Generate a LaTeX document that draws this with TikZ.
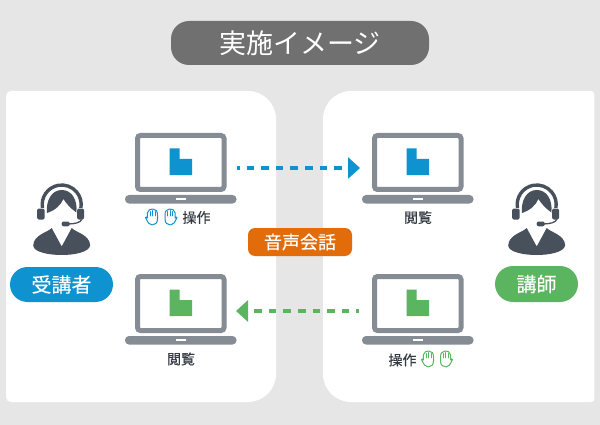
\documentclass[tikz,border=0pt]{standalone}
\usepackage{fontspec}
\usetikzlibrary{arrows.meta}
\newfontfamily\cjk{Noto Sans CJK JP}
\newfontfamily\cjkb[FakeBold=0.3]{Noto Sans CJK JP}
\definecolor{bgc}{HTML}{E6E6E6}
\definecolor{titlec}{HTML}{707070}
\definecolor{lapc}{HTML}{858C94}
\definecolor{blu}{HTML}{0F93D0}
\definecolor{grn}{HTML}{5BB560}
\definecolor{org}{HTML}{E36C0A}
\definecolor{ppl}{HTML}{47505B}
\definecolor{lab}{HTML}{333A42}
\tikzset{
  x=1pt,y=-1pt,
  pill/.style={inner sep=0pt,text=white,font=\cjkb\fontsize{#1}{#1}\selectfont},
  lbl/.style={inner sep=0pt,text=lab,font=\cjkb\fontsize{14}{14}\selectfont},
  flow/.style={line width=3.4pt,dash pattern=on 7.6pt off 7pt,dash phase=5pt,-{Triangle[length=12pt,width=21pt]}},
  pics/laptop/.style={code={
    \draw[lapc,line width=5pt,rounded corners=3pt,fill=white] (2.5,2.5) rectangle (89,56.5);
    \fill[lapc,rounded corners=4pt] (-10,62) rectangle (101.5,70.5);
    \fill[white] (41,65) rectangle (51,67);
    \fill[#1] (34.7,15.5) -- (44.5,15.5) -- (44.5,26) -- (57.2,26) -- (57.2,42.2) -- (34.7,42.2) -- cycle;
  }},
  pics/person/.style={code={
    \draw[ppl,line width=3.4pt] (-19.2,3.4) arc[start angle=170,end angle=370,radius=19.5];
    \fill[ppl,rounded corners=1.5pt] (-24.5,4) rectangle (-17,15);
    \fill[ppl,rounded corners=1.5pt] (15.5,4) rectangle (22.5,15);
    \draw[ppl,line width=1.3pt] (20,15) .. controls (19,18) and (13,19.5) .. (6,19.5);
    \fill[ppl,rounded corners=2pt] (0,17) rectangle (8,21.8);
    \fill[ppl] (-14.7,8.5) .. controls (-16,-4) and (-10,-14.5) .. (0,-14.5)
       .. controls (10,-14.5) and (16,-5) .. (14.7,8)
       .. controls (9,4) and (4.5,-1) .. (1.7,-5.5)
       .. controls (-1,1) and (-7,6) .. (-14.7,8.5) -- cycle;
    \fill[ppl] (-10,23.5) -- (0,42) -- (10,23.5) .. controls (14,28) and (28,30) .. (28.5,41)
       .. controls (27,48) and (12,50.5) .. (0,50.5)
       .. controls (-12,50.5) and (-28,48) .. (-28.5,41)
       .. controls (-28,30) and (-14,28) .. (-10,23.5) -- cycle;
  }},
  pics/hand/.style={code={
    \draw[#1,line width=1pt,line join=round,fill=white]
      (-6.5,.5) .. controls (-5.7,-.6) and (-5,0) .. (-4.7,1) -- (-4.7,-4)
      .. controls (-4.5,-7) and (-1,-8.5) .. (1,-8)
      .. controls (4,-8) and (5.5,-5.5) .. (5.5,-2) -- (5.5,2)
      .. controls (5.5,6) and (3,8) .. (0,8)
      .. controls (-3,8) and (-4,5.5) .. (-6.5,.5) -- cycle;
    \draw[#1,line width=.7pt,line cap=round] (-2,-5.5) -- (-2,-1) (.6,-6.5) -- (.6,-1) (3.1,-5.5) -- (3.1,-1);
  }}
}
\begin{document}
\begin{tikzpicture}
\useasboundingbox (0,0) rectangle (600,425);
\fill[bgc] (0,0) rectangle (600,425);
% panels
\fill[white] (6,91) [rounded corners=28pt] -- (276,91) -- (276,402) [rounded corners=5pt] -- (6,402) -- cycle;
\fill[white] (594.3,91) [rounded corners=28pt] -- (323,91) -- (323,402) [rounded corners=3pt] -- (594.3,402) -- cycle;
% title
\node[inner sep=0pt,text=white,font=\cjk\fontsize{27}{27}\selectfont,fill=titlec,rounded corners=18pt,minimum width=258pt,minimum height=44pt] (title) at (300,43) {実施イメージ};
% laptops
\pic at (135,133) {laptop=blu};
\pic at (372,133) {laptop=blu};
\pic at (135,274) {laptop=grn};
\pic at (372,274) {laptop=grn};
% hands
\pic at (152,217) {hand=blu};
\pic[xscale=-1] at (170.5,217) {hand=blu};
\pic at (428,359) {hand=grn};
\pic[xscale=-1] at (446,359) {hand=grn};
% labels
\node[lbl] (opL) at (196.5,217.5) {操作};
\node[lbl] (viewR) at (418,217.5) {閲覧};
\node[lbl] (viewL) at (181,359) {閲覧};
\node[lbl] (opR) at (402.5,360) {操作};
% people
\pic at (61.7,204.5) {person};
\pic at (536.7,204.5) {person};
% pills
\node[pill=20,fill=blu,rounded corners=17.5pt,minimum width=103pt,minimum height=35pt] (student) at (61.5,284.5) {受講者};
\node[pill=20,fill=grn,rounded corners=18pt,minimum width=83pt,minimum height=36pt] (teacher) at (536.5,284) {講師};
\node[pill=18,fill=org,rounded corners=7pt,minimum width=104pt,minimum height=28pt] (voice) at (300,242) {音声会話};
% arrows
\coordinate (a1) at (237,168);
\coordinate (a2) at (360,168);
\coordinate (b1) at (359,311);
\coordinate (b2) at (236,311);
\draw[flow,blu] (a1) -- (a2);
\draw[flow,grn] (b1) -- (b2);
\end{tikzpicture}
\end{document}
